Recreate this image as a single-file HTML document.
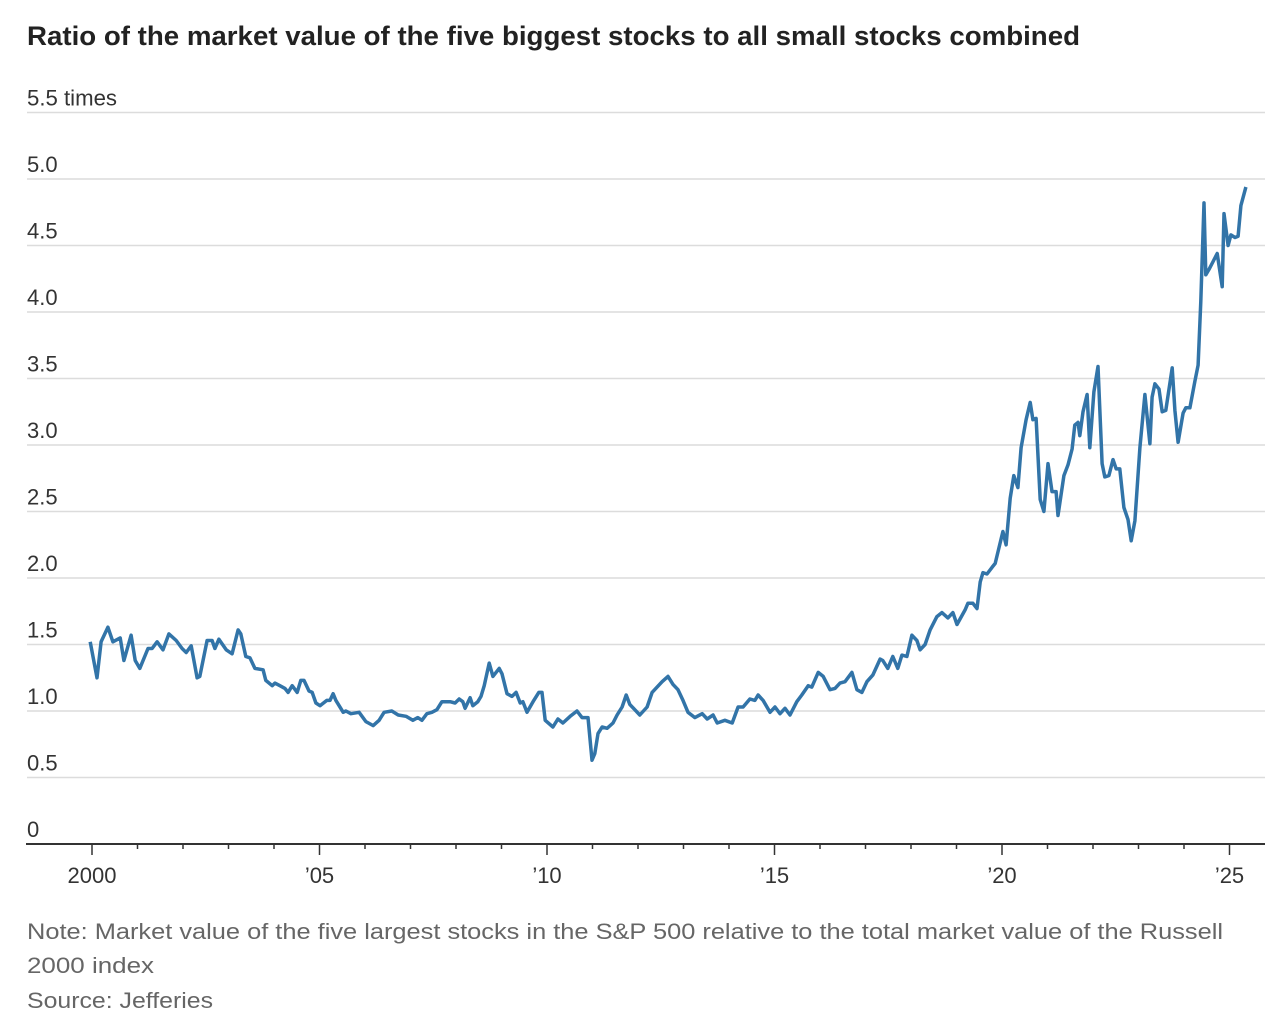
<!DOCTYPE html>
<html><head><meta charset="utf-8"><style>
html,body{margin:0;padding:0;background:#fff;}
svg{display:block;font-family:"Liberation Sans",sans-serif;}
</style></head><body>
<svg id="chart" width="1286" height="1032" viewBox="0 0 1286 1032" xmlns="http://www.w3.org/2000/svg">
<text x="27" y="45" font-size="27" font-weight="bold" fill="#222" textLength="1053" lengthAdjust="spacingAndGlyphs">Ratio of the market value of the five biggest stocks to all small stocks combined</text>
<g id="grid"></g>
<g id="xaxis"></g>
<path id="line" fill="none" stroke="#3274a8" stroke-width="3.5" stroke-linejoin="round"/>
<text x="27" y="939" font-size="22" fill="#666" textLength="1196" lengthAdjust="spacingAndGlyphs">Note: Market value of the five largest stocks in the S&amp;P 500 relative to the total market value of the Russell</text>
<text x="27" y="973" font-size="22" fill="#666" textLength="127" lengthAdjust="spacingAndGlyphs">2000 index</text>
<text x="27" y="1008" font-size="22" fill="#666" textLength="186" lengthAdjust="spacingAndGlyphs">Source: Jefferies</text>
</svg>
<script>
const yTicks=[0,0.5,1,1.5,2,2.5,3,3.5,4,4.5,5,5.5];
const yTickLabels=["0","0.5","1.0","1.5","2.0","2.5","3.0","3.5","4.0","4.5","5.0","5.5 times"];
const xMajorYears=[2000,2005,2010,2015,2020,2025];
const xMajorLabels=["2000","\u201905","\u201910","\u201915","\u201920","\u201925"];
const yearsSince2000=[-0.04,0.11,0.20,0.35,0.46,0.62,0.70,0.86,0.95,1.05,1.23,1.32,1.43,1.56,1.69,1.85,1.98,2.07,2.18,2.31,2.37,2.53,2.64,2.70,2.79,2.95,3.08,3.21,3.27,3.38,3.47,3.58,3.76,3.82,3.96,4.02,4.13,4.24,4.31,4.40,4.51,4.59,4.66,4.77,4.84,4.92,5.01,5.16,5.23,5.30,5.36,5.52,5.58,5.69,5.87,6.02,6.18,6.31,6.42,6.59,6.73,6.90,7.05,7.16,7.25,7.36,7.47,7.58,7.69,7.87,7.98,8.07,8.15,8.20,8.31,8.37,8.48,8.55,8.62,8.73,8.81,8.95,9.01,9.12,9.23,9.32,9.41,9.47,9.56,9.71,9.82,
9.89,9.96,10.13,10.24,10.35,10.51,10.66,10.77,10.90,10.99,11.05,11.12,11.21,11.32,11.45,11.54,11.65,11.74,11.82,11.93,12.04,12.20,12.31,12.42,12.53,12.66,12.77,12.88,12.99,13.10,13.25,13.41,13.52,13.65,13.74,13.91,14.07,14.20,14.31,14.46,14.57,14.64,14.75,14.90,15.01,15.12,15.23,15.34,15.49,15.60,15.74,15.82,15.96,16.07,16.22,16.33,16.44,16.55,16.70,16.81,16.92,17.03,17.16,17.32,17.38,17.49,17.60,17.71,17.80,17.91,18.02,18.13,18.20,18.31,18.42,18.57,18.68,18.81,18.92,19.01,19.19,19.25,19.36,19.45,19.52,19.58,19.67,19.78,19.85,20.02,
20.09,20.18,20.26,20.35,20.42,20.53,20.62,20.68,20.75,20.84,20.92,21.01,21.10,21.19,21.23,21.36,21.45,21.54,21.60,21.67,21.71,21.78,21.87,21.93,22.02,22.11,22.20,22.26,22.35,22.44,22.51,22.59,22.68,22.77,22.84,22.92,23.03,23.14,23.25,23.30,23.36,23.45,23.52,23.60,23.74,23.80,23.87,23.98,24.04,24.13,24.24,24.31,24.37,24.44,24.48,24.55,24.64,24.73,24.84,24.88,24.97,25.03,25.12,25.19,25.25,25.36,25.45,25.56];
const ratioValues=[1.52,1.25,1.52,1.63,1.52,1.55,1.38,1.57,1.38,1.32,1.47,1.47,1.52,1.46,1.58,1.53,1.47,1.44,1.49,1.25,1.26,1.53,1.53,1.47,1.54,1.46,1.43,1.61,1.58,1.41,1.40,1.32,1.31,1.23,1.19,1.21,1.19,1.17,1.14,1.19,1.14,1.23,1.23,1.15,1.14,1.06,1.04,1.08,1.08,1.13,1.08,0.99,1.00,0.98,0.99,0.92,0.89,0.93,0.99,1.00,0.97,0.96,0.93,0.95,0.93,0.98,0.99,1.01,1.07,1.07,1.06,1.09,1.07,1.02,1.10,1.04,1.07,1.11,1.19,1.36,1.26,1.32,1.28,1.13,1.11,1.14,1.06,1.07,0.99,1.08,1.14,
1.14,0.93,0.88,0.94,0.91,0.96,1.00,0.95,0.95,0.63,0.68,0.83,0.88,0.87,0.91,0.97,1.03,1.12,1.05,1.01,0.97,1.03,1.14,1.18,1.22,1.26,1.20,1.16,1.08,0.99,0.95,0.98,0.94,0.97,0.91,0.93,0.91,1.03,1.03,1.09,1.08,1.12,1.08,0.99,1.03,0.98,1.02,0.97,1.07,1.12,1.19,1.18,1.29,1.26,1.16,1.17,1.21,1.22,1.29,1.16,1.14,1.22,1.27,1.39,1.38,1.32,1.41,1.32,1.42,1.41,1.57,1.53,1.46,1.50,1.61,1.71,1.74,1.70,1.74,1.65,1.76,1.81,1.81,1.77,1.97,2.04,2.03,2.08,2.11,
2.35,2.25,2.60,2.77,2.68,2.98,3.19,3.32,3.19,3.20,2.59,2.50,2.86,2.65,2.65,2.47,2.77,2.85,2.97,3.15,3.17,3.07,3.25,3.38,2.98,3.40,3.59,2.86,2.76,2.77,2.89,2.82,2.82,2.53,2.44,2.28,2.43,2.98,3.38,3.01,3.36,3.46,3.42,3.25,3.26,3.58,3.26,3.02,3.24,3.28,3.28,3.48,3.60,4.08,4.82,4.28,4.32,4.38,4.44,4.19,4.74,4.50,4.58,4.56,4.57,4.80,4.94];

const NS="http://www.w3.org/2000/svg";
const X=yr=>92+(yr-2000)*45.5;
const Y=v=>844-v*133;
const grid=document.getElementById('grid');
yTicks.forEach((t,i)=>{
  if(t>0){
    const l=document.createElementNS(NS,'line');
    
    
    l.setAttribute('x1',27);l.setAttribute('x2',1265);
    l.setAttribute('y1',Y(t));l.setAttribute('y2',Y(t));
    l.setAttribute('stroke','#dcdcdc');l.setAttribute('stroke-width','1.5');
    grid.appendChild(l);
  }
  const tx=document.createElementNS(NS,'text');
  
  
  tx.setAttribute('x',27);tx.setAttribute('y',Y(t)-7);
  tx.setAttribute('font-size','22');tx.setAttribute('fill','#333');
  tx.textContent=yTickLabels[i];
  if(yTickLabels[i].length>4){tx.setAttribute('textLength','90');tx.setAttribute('lengthAdjust','spacingAndGlyphs');}
  grid.appendChild(tx);
});
const xa=document.getElementById('xaxis');
const base=document.createElementNS(NS,'line');


base.setAttribute('x1',26);base.setAttribute('x2',1265);base.setAttribute('y1',844);base.setAttribute('y2',844);
base.setAttribute('stroke','#333');base.setAttribute('stroke-width','2');
xa.appendChild(base);
for(let yr=2000;yr<=2025;yr++){
  const major=xMajorYears.indexOf(yr)>=0;
  const t=document.createElementNS(NS,'line');
  
  
  t.setAttribute('x1',X(yr));t.setAttribute('x2',X(yr));t.setAttribute('y1',844);t.setAttribute('y2',major?855:849);
  t.setAttribute('stroke','#333');t.setAttribute('stroke-width','1.5');
  xa.appendChild(t);
}
xMajorYears.forEach((yr,i)=>{
  const tx=document.createElementNS(NS,'text');
  
  
  tx.setAttribute('x',X(yr));tx.setAttribute('y',883);
  tx.setAttribute('text-anchor','middle');tx.setAttribute('font-size','22');tx.setAttribute('fill','#333');
  tx.textContent=xMajorLabels[i];
  xa.appendChild(tx);
});
let d='';
yearsSince2000.forEach((yr,i)=>{d+=(i?'L':'M')+X(2000+yr).toFixed(1)+','+Y(ratioValues[i]).toFixed(1);});
document.getElementById('line').setAttribute('d',d);
</script>
</body></html>
